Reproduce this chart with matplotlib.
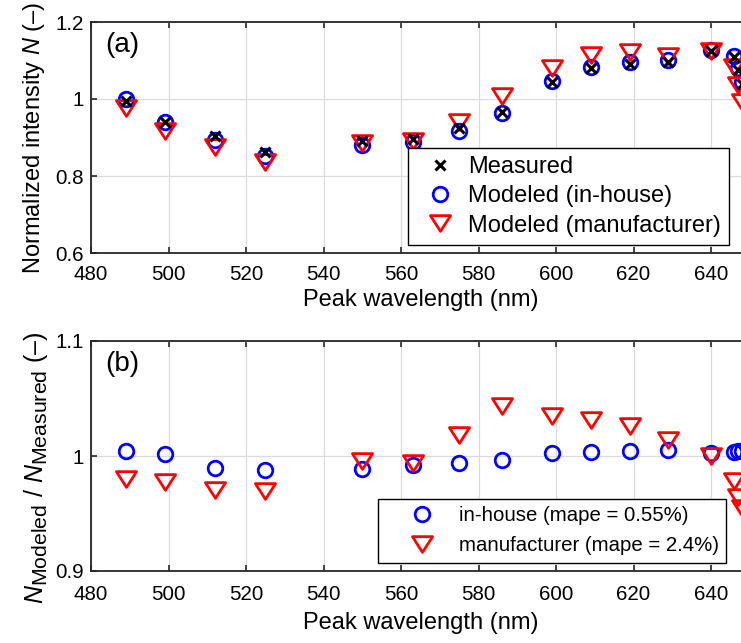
import numpy as np
import matplotlib
matplotlib.use("Agg")
import matplotlib.pyplot as plt
from matplotlib.markers import MarkerStyle
from matplotlib.path import Path
from matplotlib.lines import Line2D

try:
    import matplotlib._mathtext as _mt
    _mt.SHRINK_FACTOR = 0.85  # larger sub/superscripts
except Exception:
    pass

plt.rcParams["font.family"] = ["Liberation Sans", "DejaVu Sans"]
plt.rcParams["mathtext.fontset"] = "custom"
plt.rcParams["mathtext.rm"] = "Liberation Sans"
plt.rcParams["mathtext.it"] = "Liberation Sans:italic"

# LED peak wavelengths (nm)
wavelength = [489, 499, 512, 525, 550, 563, 575, 586, 599, 609, 619, 629, 640,
              646, 647, 648]
# measured normalized intensity N
measured = [0.996, 0.939, 0.903, 0.863, 0.890, 0.896, 0.924, 0.966, 1.045,
            1.080, 1.092, 1.095, 1.124, 1.108, 1.075, 1.040]
# modeled / measured ratios
ratio_inhouse = [1.0043, 1.0020, 0.9893, 0.9878, 0.9890, 0.9920, 0.9936, 0.9965,
                 1.0029, 1.0037, 1.0046, 1.0052, 1.0029, 1.0037, 1.0040, 1.0040]
ratio_manuf = [0.9796, 0.9770, 0.9704, 0.9700, 0.9954, 0.9940, 1.0180, 1.0433,
               1.0350, 1.0309, 1.0264, 1.0143, 1.0004, 0.9780, 0.9640, 0.9550]

mape_inhouse = "0.55%"
mape_manuf = "2.4%"
xticks = [480, 500, 520, 540, 560, 580, 600, 620, 640]

wl = np.array(wavelength)
meas = np.array(measured)
mod_inhouse = meas * np.array(ratio_inhouse)
mod_manuf = meas * np.array(ratio_manuf)

tri = MarkerStyle(Path([(-1, 0.78), (1, 0.78), (0, -0.78), (-1, 0.78)],
                       [Path.MOVETO, Path.LINETO, Path.LINETO, Path.CLOSEPOLY]),
                  joinstyle="miter")

BLUE = (0, 0, 1)
RED = (1, 0, 0)
SPINE = (0.15, 0.15, 0.15)
TICK_FS = 14.8
LABEL_FS = 17

circ_kw = dict(ls="none", marker="o", ms=10.5, mfc="none", mec=BLUE, mew=2.0)
tri_kw = dict(ls="none", marker=tri, ms=14.5, mfc="none", mec=RED, mew=2.0)
x_kw = dict(ls="none", marker="x", ms=6.5, mec="black", mew=2.2)

fig = plt.figure(figsize=(7.41, 6.43), dpi=100)
W, H = 741.0, 643.0
left = 91 / W
width = (749.75 - 91) / W
ax1 = fig.add_axes([left, 1 - 253 / H, width, 231 / H])
ax2 = fig.add_axes([left, 1 - 571 / H, width, 230 / H])


def style(ax, xpad, lpad):
    ax.set_xlim(480, 650)
    ax.set_xticks(xticks)
    ax.grid(True, color=(0.86, 0.86, 0.86), lw=0.9)
    ax.set_axisbelow(True)
    for s in ax.spines.values():
        s.set_color(SPINE)
        s.set_linewidth(1.3)
    ax.tick_params(direction="in", length=4, width=1.2, color=SPINE,
                   labelsize=TICK_FS, top=True, right=True)
    ax.tick_params(axis="x", pad=xpad)
    ax.tick_params(axis="y", pad=5)
    ax.set_xlabel("Peak wavelength (nm)", fontsize=LABEL_FS, labelpad=lpad)


# panel (a)
ax1.plot(wl, mod_inhouse, **circ_kw)
ax1.plot(wl, mod_manuf, **tri_kw)
ax1.plot(wl, meas, **x_kw)
style(ax1, 8.3, 4)
ax1.set_ylim(0.6, 1.2)
ax1.set_yticks([0.6, 0.8, 1.0, 1.2])
ax1.set_yticklabels(["0.6", "0.8", "1", "1.2"])
ax1.set_ylabel("Normalized intensity $N$ (\u2013)", fontsize=LABEL_FS, labelpad=6.5)
ax1.text(0.021, 0.90, "(a)", transform=ax1.transAxes, fontsize=20,
         ha="left", va="center")
h_a = [Line2D([], [], **x_kw), Line2D([], [], **circ_kw), Line2D([], [], **tri_kw)]
ax1.legend(h_a, ["Measured", "Modeled (in-house)", "Modeled (manufacturer)"],
           loc="upper left", bbox_to_anchor=(408 / W, 1 - 148 / H),
           bbox_transform=fig.transFigure, fontsize=17, frameon=True,
           fancybox=False, edgecolor="black", framealpha=1, borderpad=0.34,
           handletextpad=0.16, labelspacing=0.31, handlelength=2.04,
           borderaxespad=0).get_frame().set_linewidth(1.0)

# panel (b)
ax2.plot(wl, ratio_inhouse, **circ_kw)
ax2.plot(wl, ratio_manuf, **tri_kw)
style(ax2, 10, 6)
ax2.set_ylim(0.9, 1.1)
ax2.set_yticks([0.9, 1.0, 1.1])
ax2.set_yticklabels(["0.9", "1", "1.1"])
ax2.set_ylabel("$N_{\\mathrm{Modeled}}$ / $N_{\\mathrm{Measured}}$ (\u2013)",
               fontsize=18, labelpad=4)
ax2.yaxis.label.set_y(0.45)
ax2.text(0.021, 0.90, "(b)", transform=ax2.transAxes, fontsize=20,
         ha="left", va="center")
h_b = [Line2D([], [], **circ_kw), Line2D([], [], **tri_kw)]
ax2.legend(h_b, [f"in-house (mape = {mape_inhouse})",
                 f"manufacturer (mape = {mape_manuf})"],
           loc="upper left", bbox_to_anchor=(378 / W, 1 - 499 / H),
           bbox_transform=fig.transFigure, fontsize=14.7, frameon=True,
           fancybox=False, edgecolor="black", framealpha=1, borderpad=0.35,
           handletextpad=0.0, labelspacing=0.55, handlelength=3.6,
           borderaxespad=0).get_frame().set_linewidth(1.0)

fig.savefig("out.png", dpi=100)
